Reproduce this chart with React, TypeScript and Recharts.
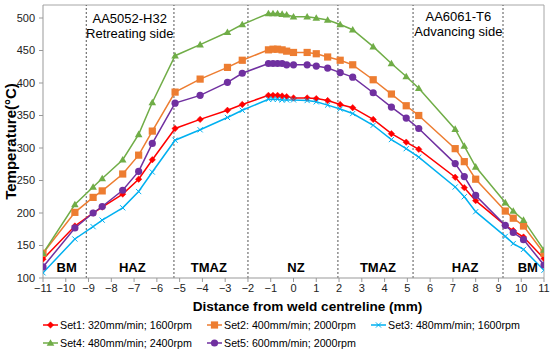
import React from 'react';
import { LineChart, Line, XAxis, YAxis, ReferenceLine, ReferenceDot, Legend } from 'recharts';

const distances = [-11, -9.6, -8.8, -8.4, -7.5, -6.8, -6.2, -5.2, -4.1, -2.9, -2.25, -1.1, -0.9, -0.7, -0.5, -0.3, 0, 0.6, 1.0, 1.5, 2.05, 2.6, 3.5, 4.3, 4.95, 5.5, 7.1, 7.5, 8.0, 9.3, 9.65, 10.1, 11];
const set1 = [129, 180, 200, 209, 229, 252, 282, 330, 344, 358, 367, 381, 381, 381, 380, 379, 377, 377, 376, 373, 367, 362, 344, 322, 309, 298, 255, 239, 219, 181, 173, 163, 130];
const set2 = [138, 201, 224, 234, 260, 289, 326, 386, 406, 424, 435, 451, 452, 452, 451, 449, 447, 447, 445, 440, 435, 428, 405, 383, 365, 350, 299, 279, 252, 203, 192, 180, 138];
const set3 = [108, 160, 179, 189, 208, 233, 263, 312, 328, 347, 358, 375, 375, 375, 374, 374, 374, 373, 371, 366, 360, 353, 335, 313, 299, 286, 240, 225, 202, 164, 153, 144, 112];
const set4 = [138, 213, 240, 253, 282, 321, 370, 442, 459, 478, 490, 507, 507, 507, 506, 505, 502, 502, 500, 497, 490, 482, 456, 430, 410, 392, 329, 303, 271, 216, 203, 189, 143];
const set5 = [117, 177, 200, 210, 235, 264, 307, 369, 381, 401, 415, 430, 430, 430, 430, 428, 428, 428, 426, 423, 416, 409, 385, 363, 346, 330, 276, 256, 227, 181, 170, 159, 120];

const xTicks = [-11, -10, -9, -8, -7, -6, -5, -4, -3, -2, -1, 0, 1, 2, 3, 4, 5, 6, 7, 8, 9, 10, 11];
const yTicks = [100, 150, 200, 250, 300, 350, 400, 450, 500];
const zoneBoundaries = [-9.1, -5.25, -2, 1.95, 5.25, 9.2];
const zoneLabels = ['BM', 'HAZ', 'TMAZ', 'NZ', 'TMAZ', 'HAZ', 'BM'];
const zoneCenters = [-9.96, -7.08, -3.72, 0.11, 3.71, 7.54, 10.29];
const leftNote = ['AA5052-H32', 'Retreating side'];
const rightNote = ['AA6061-T6', 'Advancing side'];

const series = [
  { key: 'set1', name: 'Set1: 320mm/min; 1600rpm', color: '#FF0000', marker: 'diamond', values: set1 },
  { key: 'set2', name: 'Set2: 400mm/min; 2000rpm', color: '#ED7D31', marker: 'square', values: set2 },
  { key: 'set3', name: 'Set3: 480mm/min; 1600rpm', color: '#00B0F0', marker: 'cross', values: set3 },
  { key: 'set4', name: 'Set4: 480mm/min; 2400rpm', color: '#70AD47', marker: 'triangle', values: set4 },
  { key: 'set5', name: 'Set5: 600mm/min; 2000rpm', color: '#7030A0', marker: 'circle', values: set5 },
];

const data = distances.map((d, i) => {
  const row: Record<string, number> = { d };
  series.forEach((s) => { row[s.key] = s.values[i]; });
  return row;
});

const FONT = '"Liberation Sans", Arial, sans-serif';

function Marker({ type, cx, cy, color }: { type: string; cx: number; cy: number; color: string }) {
  if (cx == null || cy == null || isNaN(cx) || isNaN(cy)) return null;
  switch (type) {
    case 'diamond':
      return <path d={`M${cx},${cy - 3.2}L${cx + 3.2},${cy}L${cx},${cy + 3.2}L${cx - 3.2},${cy}Z`} fill={color} stroke={color} strokeWidth={0.5} />;
    case 'square':
      return <rect x={cx - 3.6} y={cy - 3.6} width={7.2} height={7.2} fill={color} />;
    case 'cross':
      return <path d={`M${cx - 2.6},${cy - 2.6}L${cx + 2.6},${cy + 2.6}M${cx - 2.6},${cy + 2.6}L${cx + 2.6},${cy - 2.6}`} stroke={color} strokeWidth={1} fill="none" />;
    case 'triangle':
      return <path d={`M${cx},${cy - 3.8}L${cx + 3.8},${cy + 2.8}L${cx - 3.8},${cy + 2.8}Z`} fill={color} />;
    default:
      return <circle cx={cx} cy={cy} r={3.6} fill={color} />;
  }
}

const YLabel = (props: any) => {
  const vb = props.viewBox || { y: 5, height: 273 };
  const cx = 10;
  const cy = vb.y + vb.height / 2;
  return (
    <text x={cx} y={cy} transform={`rotate(-90 ${cx} ${cy})`} textAnchor="middle" dominantBaseline="central"
      fontSize={15} fontWeight="bold" fill="#000" fontFamily={FONT}>
      Temperature(°C)
    </text>
  );
};

const LegendContent = () => {
  const cols = [43, 207, 371];
  const rows = [13, 31];
  return (
    <svg width={550} height={40} style={{ display: 'block' }}>
      {series.map((s, i) => {
        const x = cols[i % 3];
        const y = rows[Math.floor(i / 3)];
        return (
          <g key={s.key}>
            <line x1={x} x2={x + 15} y1={y} y2={y} stroke={s.color} strokeWidth={1.5} />
            <Marker type={s.marker} cx={x + 7.5} cy={y} color={s.color} />
            <text x={x + 17} y={y} dominantBaseline="central" fontSize={10.7} fill="#000" fontFamily={FONT}>{s.name}</text>
          </g>
        );
      })}
    </svg>
  );
};

const fmt = (v: number) => String(v).replace('-', '\u2212');

export default function App() {
  return (
    <div style={{ position: 'absolute', left: 0, top: 0, width: 550, height: 352, background: '#fff', fontFamily: FONT }}>
      <LineChart width={550} height={352} data={data} margin={{ top: 5, right: 6, left: 0, bottom: 0 }} style={{ fontFamily: FONT }}>
        <XAxis type="number" dataKey="d" domain={[-11, 11]} ticks={xTicks} interval={0} height={34}
          tickFormatter={fmt} tick={{ fontSize: 11, fill: '#222' }} tickSize={4} tickMargin={2}
          stroke="#999" allowDataOverflow
          label={{ value: 'Distance from weld centreline (mm)', position: 'insideBottom', offset: 1, dx: 14, fontSize: 13.6, fontWeight: 'bold', fill: '#000' }} />
        <YAxis type="number" domain={[100, 520]} ticks={yTicks} interval={0} width={43}
          tick={{ fontSize: 11, fill: '#222' }} tickSize={4} tickMargin={4} stroke="#999" allowDataOverflow
          label={<YLabel />} />
        <ReferenceLine y={520} stroke="#A6A6A6" />
        <ReferenceLine x={11} stroke="#A6A6A6" />
        {zoneBoundaries.map((b) => (
          <ReferenceLine key={`zb${b}`} x={b} stroke="#555" strokeDasharray="2 2" strokeWidth={1} />
        ))}
        {zoneLabels.map((z, i) => (
          <ReferenceDot key={`zl${i}`} x={zoneCenters[i]} y={116} r={0} fill="none" stroke="none"
            label={{ value: z, position: 'center', fontSize: 13, fontWeight: 'bold', fill: '#000' }} />
        ))}
        <ReferenceDot x={-7.19} y={500} r={0} fill="none" stroke="none" label={{ value: leftNote[0], position: 'center', fontSize: 13, fill: '#000' }} />
        <ReferenceDot x={-7.19} y={477} r={0} fill="none" stroke="none" label={{ value: leftNote[1], position: 'center', fontSize: 13, fill: '#000' }} />
        <ReferenceDot x={7.24} y={502} r={0} fill="none" stroke="none" label={{ value: rightNote[0], position: 'center', fontSize: 13, fill: '#000' }} />
        <ReferenceDot x={7.24} y={479} r={0} fill="none" stroke="none" label={{ value: rightNote[1], position: 'center', fontSize: 13, fill: '#000' }} />
        {series.map((s) => (
          <Line key={s.key} type="linear" dataKey={s.key} name={s.name} stroke={s.color} strokeWidth={1.5}
            isAnimationActive={false}
            dot={(p: any) => <Marker key={`${s.key}-${p.index}`} type={s.marker} cx={p.cx} cy={p.cy} color={s.color} />}
            activeDot={false} />
        ))}
        <Legend verticalAlign="bottom" height={40} content={LegendContent} wrapperStyle={{ left: 0, width: 550 }} />
      </LineChart>
    </div>
  );
}
